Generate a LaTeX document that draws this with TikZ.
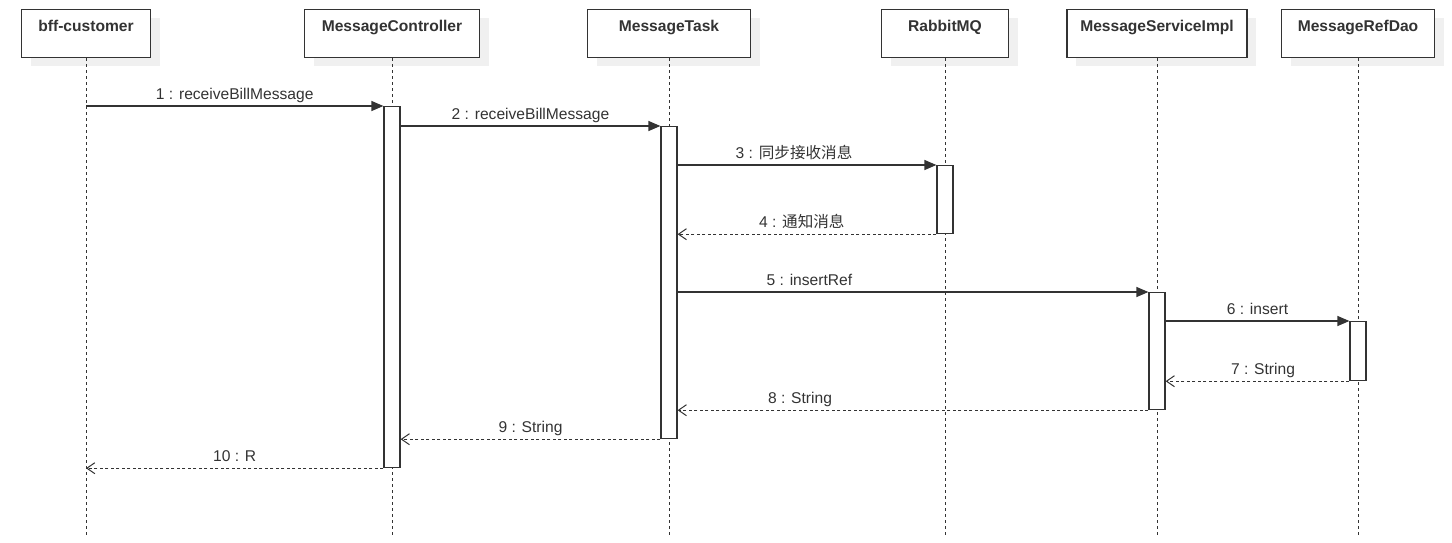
\documentclass[tikz,border=0pt]{standalone}
\usepackage{fontspec}
\setmainfont{Liberation Sans}
\newfontfamily\cjk{Noto Sans CJK SC}
\usepackage{tikz}
\usetikzlibrary{arrows.meta, positioning, shadows}
\definecolor{ink}{HTML}{333333}
\newcommand{\seqfont}{\fontsize{15.6pt}{18pt}\selectfont}
\tikzset{
  header/.style   = {rectangle, draw=ink, line width=1.2pt, fill=white, anchor=north,
                     minimum height=48pt, text height=22pt, text depth=26pt,
                     inner ysep=0pt, font=\seqfont\bfseries, text=ink,
                     drop shadow={shadow xshift=9pt, shadow yshift=-8pt,
                                  fill=black!6, opacity=1}},
  activation/.style = {rectangle, draw=ink, line width=1.2pt, fill=white, anchor=north,
                     minimum width=16pt, inner sep=0pt},
  lifeline/.style = {draw=ink, line width=1pt, dash pattern=on 3pt off 3pt},
  call/.style     = {draw=ink, line width=1.2pt, -{Triangle[length=12pt, width=10pt]}},
  reply/.style    = {draw=ink, line width=1pt, dash pattern=on 3pt off 2.5pt,
                     -{Straight Barb[length=8pt, width=11pt, line width=1pt]}},
  msg/.style      = {above, text=ink, font=\seqfont, text depth=3pt, inner sep=3pt}
}

\begin{document}
\begin{tikzpicture}[x=1pt, y=-1pt, font=\seqfont]
  \useasboundingbox (0,0) rectangle (1452,542);

  \node[header, minimum width=129pt] (bff) at (86,9)   {bff-customer};
  \node[header, minimum width=175pt] (mc)  at (392,9)  {MessageController};
  \node[header, minimum width=163pt] (mt)  at (669,9)  {MessageTask};
  \node[header, minimum width=127pt] (rmq) at (945,9)  {RabbitMQ};
  \node[header, minimum width=180pt] (msi) at (1157,9) {MessageServiceImpl};
  \node[header, minimum width=153pt] (mrd) at (1358,9) {MessageRefDao};

  \coordinate (bottom) at (0,536);
  \draw[lifeline] (bff.south) -- (bff.south |- bottom);
  \draw[lifeline] (mc.south)  -- (mc.south |- bottom);
  \draw[lifeline] (mt.south)  -- (mt.south |- bottom);
  \draw[lifeline] (rmq.south) -- (rmq.south |- bottom);
  \draw[lifeline] (msi.south) -- (msi.south |- bottom);
  \draw[lifeline] (mrd.south) -- (mrd.south |- bottom);

  \node[activation, minimum height=361pt] (actMC)  at (392,106)  {};
  \node[activation, minimum height=312pt] (actMT)  at (669,126)  {};
  \node[activation, minimum height=68pt]  (actRMQ) at (945,165)  {};
  \node[activation, minimum height=117pt] (actMSI) at (1157,292) {};
  \node[activation, minimum height=59pt]  (actMRD) at (1358,321) {};

  \draw[call] (bff.south |- actMC.north) -- node[msg]{1 : receiveBillMessage} (actMC.north west);
  \draw[call] (actMC.east |- actMT.north) -- node[msg]{2 : receiveBillMessage} (actMT.north west);
  \draw[call] (actMT.east |- actRMQ.north) -- node[msg, pos=0.45]{3 : {\cjk 同步接收消息}} (actRMQ.north west);
  \draw[reply] (actRMQ.south west) -- node[msg, pos=0.52]{4 : {\cjk 通知消息}} (actMT.east |- actRMQ.south);
  \draw[call] (actMT.east |- actMSI.north) -- node[msg, pos=0.28]{5 : insertRef} (actMSI.north west);
  \draw[call] (actMSI.east |- actMRD.north) -- node[msg]{6 : insert} (actMRD.north west);
  \draw[reply] (actMRD.south west) -- node[msg, pos=0.47]{7 : String} (actMSI.east |- actMRD.south);
  \draw[reply] (actMSI.south west) -- node[msg, pos=0.74]{8 : String} (actMT.east |- actMSI.south);
  \draw[reply] (actMT.south west) -- node[msg]{9 : String} (actMC.east |- actMT.south);
  \draw[reply] (actMC.south west) -- node[msg]{10 : R} (bff.south |- actMC.south);
\end{tikzpicture}
\end{document}
